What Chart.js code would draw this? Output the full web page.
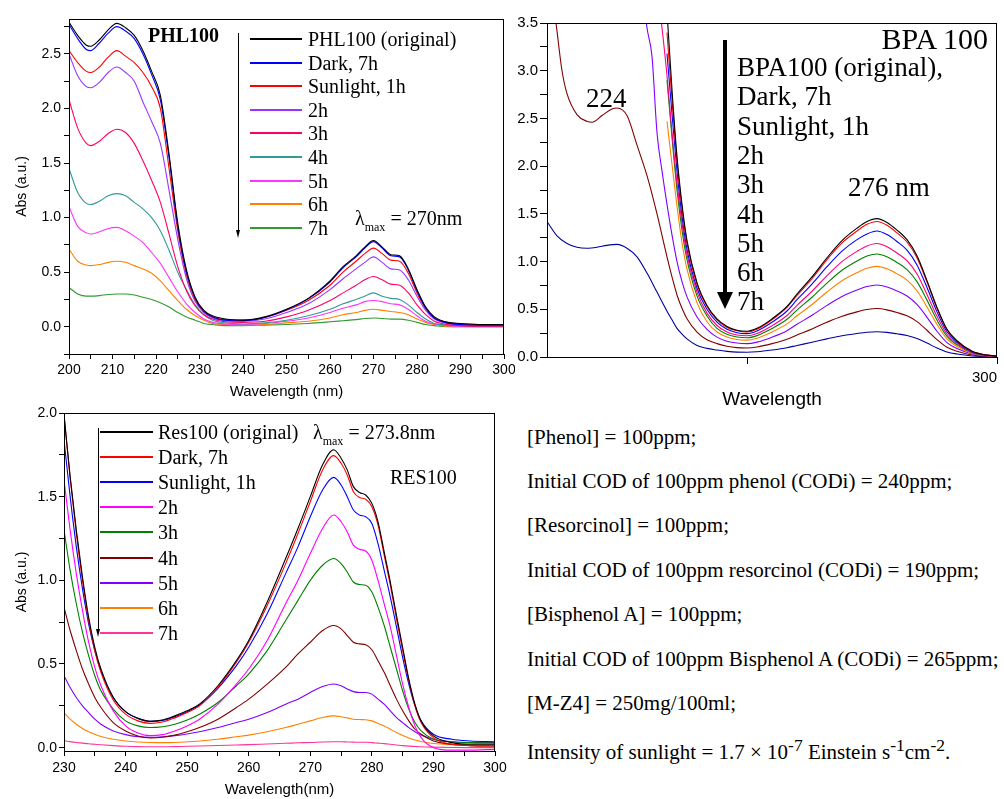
<!DOCTYPE html>
<html>
<head>
<meta charset="utf-8">
<script src="https://cdn.jsdelivr.net/npm/chart.js@4.4.1/dist/chart.umd.min.js"></script>
<style>
  body { margin:0; background:#fff; width:1004px; height:799px; overflow:hidden; position:relative;
         font-family:"Liberation Serif","Times New Roman",serif; color:#000; }
  canvas { position:absolute; }
  .t { position:absolute; white-space:nowrap; line-height:1; }
  .ln { position:absolute; height:2px; }
  .sub { font-size:12px; position:relative; top:6px; }
</style>
</head>
<body>
<canvas id="phl" width="515" height="405" style="left:0;top:0"></canvas>
<canvas id="bpa" width="504" height="420" style="left:500px;top:0"></canvas>
<canvas id="res" width="510" height="399" style="left:0;top:400px"></canvas>

<div class="t" style="left:148px;top:25px;font-size:20px;font-weight:bold">PHL100</div>
<div class="t" style="left:355px;top:208px;font-size:20px">λ<span class="sub">max</span> = 270nm</div>

<div class="t" style="right:16px;top:24px;font-size:30px">BPA 100</div>
<div class="t" style="left:586px;top:85px;font-size:27px">224</div>
<div class="t" style="left:848px;top:174px;font-size:27px">276 nm</div>

<div class="t" style="left:313px;top:422px;font-size:20px">λ<span class="sub">max</span> = 273.8nm</div>
<div class="t" style="left:390px;top:467px;font-size:20px">RES100</div>

<script>
// ---- PHL100 (phenol) ----
var phlWl = [200,202,204,205,207,209,211,213,215,217,219,221,223,225,227,229,231,233,236,240,245,250,255,260,263,266,268,270,272,274,276,278,280,282,284,287,290,295,300];
var phlOrig = [2.79,2.67,2.58,2.57,2.63,2.72,2.78,2.74,2.67,2.53,2.34,2.12,1.58,0.95,0.52,0.27,0.15,0.10,0.07,0.06,0.09,0.16,0.26,0.42,0.55,0.65,0.73,0.79,0.73,0.66,0.65,0.53,0.34,0.18,0.09,0.04,0.03,0.02,0.02];
var phlDark = [2.77,2.64,2.54,2.53,2.6,2.69,2.75,2.71,2.64,2.5,2.31,2.08,1.55,0.92,0.5,0.26,0.14,0.09,0.06,0.055,0.085,0.155,0.255,0.41,0.54,0.64,0.72,0.78,0.72,0.65,0.64,0.52,0.33,0.17,0.08,0.035,0.02,0.015,0.015];
var phlSun1 = [2.53,2.42,2.34,2.33,2.38,2.47,2.53,2.48,2.42,2.33,2.2,2.0,1.45,0.88,0.48,0.25,0.14,0.09,0.065,0.06,0.085,0.15,0.24,0.38,0.5,0.6,0.67,0.72,0.67,0.61,0.6,0.49,0.31,0.17,0.08,0.04,0.025,0.02,0.02];
var phl2h = [2.5,2.3,2.2,2.19,2.24,2.33,2.38,2.33,2.25,2.06,1.88,1.68,1.25,0.8,0.44,0.23,0.13,0.08,0.055,0.05,0.07,0.13,0.21,0.34,0.44,0.53,0.59,0.64,0.59,0.53,0.52,0.43,0.28,0.15,0.07,0.03,0.02,0.01,0.01];
var phl3h = [2.08,1.82,1.68,1.66,1.7,1.77,1.81,1.78,1.68,1.52,1.34,1.14,0.85,0.55,0.33,0.19,0.11,0.07,0.045,0.04,0.05,0.09,0.15,0.24,0.31,0.38,0.43,0.46,0.43,0.39,0.38,0.31,0.2,0.11,0.05,0.02,0.01,0.005,0.005];
var phl4h = [1.45,1.23,1.13,1.12,1.15,1.2,1.22,1.2,1.14,1.08,1.0,0.88,0.7,0.5,0.34,0.2,0.11,0.06,0.035,0.025,0.035,0.06,0.1,0.16,0.21,0.25,0.28,0.31,0.28,0.26,0.25,0.2,0.13,0.07,0.03,0.015,0.01,0.005,0.005];
var phl5h = [1.1,0.92,0.86,0.85,0.87,0.9,0.91,0.88,0.83,0.77,0.68,0.58,0.45,0.32,0.21,0.13,0.07,0.04,0.025,0.02,0.03,0.05,0.08,0.13,0.17,0.2,0.23,0.24,0.23,0.21,0.2,0.16,0.1,0.05,0.025,0.01,0.005,0.0,0.0];
var phl6h = [0.71,0.6,0.565,0.56,0.57,0.59,0.6,0.59,0.56,0.53,0.49,0.42,0.33,0.24,0.16,0.1,0.06,0.03,0.02,0.015,0.02,0.035,0.05,0.08,0.11,0.13,0.15,0.16,0.15,0.14,0.13,0.11,0.07,0.04,0.02,0.005,0.0,0.0,0.0];
var phl7h = [0.36,0.3,0.28,0.28,0.285,0.295,0.3,0.3,0.29,0.27,0.25,0.22,0.18,0.13,0.09,0.06,0.03,0.02,0.01,0.01,0.015,0.02,0.03,0.045,0.055,0.065,0.075,0.08,0.075,0.07,0.07,0.06,0.04,0.02,0.01,0.0,0.0,0.0,0.0];
var phlLabels = ['PHL100 (original)','Dark, 7h','Sunlight, 1h','2h','3h','4h','5h','6h','7h'];
var phlColors = ['#000000','#0000ff','#ff0000','#9933ff','#ff0066','#339999','#ff33ff','#ff8000','#339933'];

// ---- BPA 100 (bisphenol A) ----
var bpaWl = [234,235,236,237,238,240,242,244,246,248,250,252,255,258,260,263,266,269,272,274,276,278,280,282,284,286,288,290,292,295,298,300];
var bpaOrig = [3.62,2.8,2.1,1.6,1.22,0.78,0.54,0.4,0.32,0.28,0.27,0.3,0.4,0.53,0.66,0.84,1.04,1.22,1.35,1.42,1.45,1.41,1.33,1.23,1.06,0.8,0.52,0.29,0.17,0.06,0.02,0.01];
var bpaDark = [3.4,2.7,2.05,1.56,1.19,0.76,0.53,0.39,0.31,0.275,0.262,0.29,0.39,0.52,0.645,0.82,1.02,1.195,1.32,1.39,1.42,1.38,1.3,1.205,1.04,0.785,0.51,0.285,0.165,0.06,0.02,0.01];
var bpaSun1 = [3.18,2.55,1.95,1.48,1.13,0.72,0.5,0.365,0.29,0.255,0.245,0.273,0.364,0.482,0.6,0.764,0.946,1.11,1.23,1.29,1.32,1.283,1.21,1.12,0.965,0.728,0.473,0.264,0.155,0.055,0.018,0.01];
var bpa2hEarlyWl = [230,232,233];
var bpa2hEarly = [4.6,3.9,3.45];
var bpa2h = [2.95,2.35,1.82,1.4,1.07,0.68,0.46,0.33,0.262,0.23,0.222,0.246,0.328,0.435,0.541,0.689,0.853,1.0,1.107,1.164,1.19,1.156,1.09,1.009,0.869,0.656,0.426,0.238,0.139,0.049,0.016,0.008];
var bpa3h = [2.9,2.3,1.75,1.33,1.02,0.64,0.43,0.3,0.238,0.209,0.201,0.224,0.298,0.395,0.492,0.626,0.775,0.909,1.006,1.058,1.08,1.05,0.991,0.916,0.79,0.596,0.387,0.216,0.127,0.045,0.015,0.007];
var bpa4h = [2.47,2.02,1.58,1.2,0.92,0.57,0.37,0.262,0.21,0.183,0.177,0.197,0.262,0.347,0.432,0.55,0.681,0.799,0.884,0.93,0.95,0.924,0.871,0.806,0.694,0.524,0.341,0.19,0.111,0.039,0.013,0.006];
var bpa5hEarlyWl = [228,230,231,232,233];
var bpa5hEarly = [4.4,3.45,3.15,2.35,1.95];
var bpa5h = [1.6,1.28,1.0,0.79,0.63,0.42,0.29,0.208,0.166,0.146,0.14,0.156,0.208,0.276,0.343,0.437,0.541,0.634,0.702,0.738,0.755,0.733,0.692,0.64,0.551,0.416,0.27,0.151,0.088,0.031,0.01,0.005];
var bpa6hEarlyWl = [210,211.8,213,214,216,218,219,221,223,224,226,228,230,232];
var bpa6hEarly = [4.2,3.5,3.0,2.76,2.54,2.47,2.46,2.53,2.6,2.61,2.53,2.22,1.9,1.5];
var bpa6h = [1.05,0.84,0.65,0.51,0.4,0.26,0.18,0.14,0.112,0.098,0.095,0.105,0.14,0.186,0.231,0.294,0.364,0.427,0.473,0.497,0.508,0.494,0.466,0.431,0.371,0.28,0.182,0.102,0.06,0.021,0.007,0.003];
var bpa7hEarlyWl = [210,212,214,216,218,220,222,224,226,228,230,232];
var bpa7hEarly = [1.42,1.27,1.19,1.15,1.14,1.15,1.17,1.18,1.14,1.05,0.88,0.68];
var bpa7h = [0.48,0.39,0.3,0.24,0.19,0.12,0.09,0.073,0.059,0.051,0.05,0.055,0.073,0.097,0.121,0.154,0.19,0.223,0.247,0.26,0.265,0.258,0.243,0.225,0.194,0.146,0.095,0.053,0.031,0.011,0.004,0.002];
var bpaLabels = ['BPA100 (original),','Dark, 7h','Sunlight, 1h','2h','3h','4h','5h','6h','7h'];
var bpaColors = ['#000000','#ff0000','#0000ff','#ff0080','#008000','#ff8000','#8000ff','#800000','#0000a0'];

// ---- RES100 (resorcinol) ----
var resWl = [230,231,232,233,234,235,236,238,240,242,244,246,248,250,252,255,258,260,263,266,268,270,272,273.8,275,276,277,278,279,280,281,282,283,284,285,286,287,288,290,293,296,300];
var resOrig = [1.99,1.62,1.3,1.02,0.78,0.6,0.47,0.3,0.215,0.175,0.158,0.165,0.19,0.22,0.26,0.37,0.52,0.64,0.87,1.13,1.31,1.5,1.69,1.78,1.73,1.66,1.56,1.525,1.51,1.46,1.35,1.17,0.99,0.79,0.6,0.41,0.26,0.16,0.07,0.03,0.02,0.02];
var resDark = [1.99,1.61,1.28,1.0,0.76,0.58,0.45,0.285,0.2,0.16,0.145,0.153,0.178,0.21,0.25,0.36,0.51,0.63,0.85,1.1,1.28,1.47,1.66,1.745,1.7,1.63,1.53,1.495,1.485,1.44,1.33,1.15,0.97,0.77,0.58,0.4,0.25,0.15,0.06,0.02,0.012,0.01];
var resSun1 = [1.84,1.5,1.2,0.95,0.74,0.58,0.46,0.3,0.215,0.175,0.157,0.163,0.185,0.215,0.255,0.355,0.49,0.6,0.8,1.04,1.2,1.38,1.54,1.615,1.57,1.5,1.42,1.39,1.38,1.34,1.22,1.06,0.9,0.72,0.54,0.38,0.25,0.16,0.08,0.05,0.04,0.035];
var res2h = [1.6,1.3,1.04,0.82,0.63,0.48,0.37,0.22,0.13,0.088,0.072,0.078,0.1,0.13,0.17,0.26,0.38,0.47,0.64,0.86,1.0,1.16,1.31,1.39,1.35,1.29,1.21,1.185,1.175,1.12,1.0,0.86,0.72,0.55,0.38,0.24,0.13,0.06,0.0,-0.015,-0.015,-0.01];
var res3h = [1.3,1.06,0.86,0.69,0.55,0.43,0.34,0.23,0.16,0.13,0.12,0.125,0.14,0.165,0.2,0.27,0.37,0.44,0.58,0.76,0.88,1.0,1.09,1.13,1.1,1.05,0.99,0.975,0.97,0.93,0.84,0.73,0.6,0.47,0.34,0.23,0.15,0.1,0.05,0.035,0.03,0.028];
var res4h = [0.84,0.7,0.58,0.47,0.38,0.3,0.24,0.15,0.1,0.07,0.058,0.062,0.075,0.095,0.12,0.17,0.24,0.29,0.38,0.48,0.56,0.63,0.7,0.73,0.71,0.67,0.63,0.62,0.615,0.585,0.52,0.45,0.37,0.29,0.22,0.16,0.11,0.08,0.04,0.02,0.012,0.01];
var res5h = [0.43,0.36,0.3,0.25,0.21,0.17,0.14,0.1,0.078,0.066,0.062,0.065,0.072,0.082,0.095,0.12,0.15,0.17,0.21,0.26,0.29,0.33,0.365,0.38,0.37,0.35,0.335,0.33,0.33,0.32,0.29,0.26,0.22,0.18,0.15,0.12,0.095,0.075,0.05,0.035,0.03,0.03];
var res6h = [0.21,0.17,0.14,0.115,0.095,0.08,0.067,0.05,0.04,0.034,0.031,0.03,0.031,0.035,0.04,0.05,0.065,0.075,0.095,0.12,0.14,0.16,0.18,0.19,0.185,0.178,0.17,0.168,0.167,0.16,0.145,0.13,0.11,0.09,0.072,0.058,0.046,0.037,0.025,0.018,0.016,0.015];
var res7h = [0.042,0.036,0.031,0.027,0.023,0.02,0.017,0.012,0.008,0.006,0.005,0.005,0.006,0.008,0.01,0.013,0.016,0.018,0.022,0.026,0.029,0.031,0.034,0.035,0.035,0.034,0.033,0.032,0.032,0.03,0.027,0.024,0.02,0.016,0.012,0.009,0.007,0.005,0.003,0.001,0.0,0.0];
var resLabels = ['Res100 (original)','Dark, 7h','Sunlight, 1h','2h','3h','4h','5h','6h','7h'];
var resColors = ['#000000','#ff0000','#0000ff','#ff00ff','#008000','#800000','#8000ff','#ff8000','#ff3399'];

var notes = ['[Phenol] = 100ppm;',
  'Initial COD of 100ppm phenol (CODi) = 240ppm;',
  '[Resorcinol] = 100ppm;',
  'Initial COD of 100ppm resorcinol (CODi) = 190ppm;',
  '[Bisphenol A] = 100ppm;',
  'Initial COD of 100ppm Bisphenol A (CODi) = 265ppm;',
  '[M-Z4] = 250mg/100ml;',
  'Intensity of sunlight = 1.7 \u00d7 10<sup>-7</sup> Einstein s<sup>-1</sup>cm<sup>-2</sup>.'];

function pts(wl, ys) {
  return wl.map(function (x, i) { return {x: x, y: ys[i]}; });
}

function line(data, color) {
  return {data: data, borderColor: color, borderWidth: 1.1, pointRadius: 0, fill: false,
          cubicInterpolationMode: 'monotone'};
}

// box round the plot area
var frame = {
  id: 'frame',
  afterDraw: function (chart) {
    var a = chart.chartArea, ctx = chart.ctx;
    ctx.save();
    ctx.strokeStyle = '#000';
    ctx.lineWidth = 1;
    ctx.strokeRect(Math.round(a.left) + 0.5, Math.round(a.top) + 0.5,
                   Math.round(a.right - a.left) - 1, Math.round(a.bottom - a.top));
    ctx.restore();
  }
};

function halfStep(v) { return Math.abs(v * 2 - Math.round(v * 2)) < 1e-6; }

function makeChart(id, datasets, o) {
  var sans = 'Liberation Sans, Arial, sans-serif';
  new Chart(document.getElementById(id), {
    type: 'line',
    data: {datasets: datasets},
    plugins: [frame],
    options: {
      responsive: false, animation: false, devicePixelRatio: 1,
      layout: {padding: {top: o.padTop, right: o.padRight, left: 0, bottom: 0}},
      plugins: {legend: {display: false}, tooltip: {enabled: false}},
      scales: {
        x: {
          type: 'linear', min: o.xmin, max: o.xmax,
          border: {display: false},
          grid: {drawOnChartArea: false, tickLength: o.tickLen, tickColor: '#000'},
          ticks: {stepSize: o.xstep, includeBounds: false, autoSkip: false, maxRotation: 0,
                  align: o.xAlign || 'center',
                  padding: o.xPad, color: '#000', font: {family: sans, size: o.tickFont},
                  callback: o.xLabel},
          title: {display: true, text: o.xTitle, color: '#000',
                  font: {family: sans, size: o.xTitleFont}, padding: {top: 0, bottom: o.xTitlePad}},
          afterFit: function (s) { s.height = o.xh; s.paddingLeft = 0; s.paddingRight = 0; }
        },
        y: {
          min: o.ymin, max: o.ymax,
          border: {display: false},
          grid: {drawOnChartArea: false, tickLength: o.tickLen, tickColor: '#000'},
          ticks: {stepSize: o.ystep, includeBounds: false, autoSkip: false, padding: o.yPad,
                  color: '#000', font: {family: sans, size: o.tickFont},
                  callback: function (v) { return halfStep(v) ? v.toFixed(1) : ''; }},
          title: {display: !!o.yTitle, text: o.yTitle, color: '#000',
                  font: {family: sans, size: 14}, padding: {top: o.yTitlePad, bottom: 0}},
          afterFit: function (s) { s.width = o.yw; s.paddingTop = 0; s.paddingBottom = 0; }
        }
      }
    }
  });
}

var phlSeries = [phlOrig, phlDark, phlSun1, phl2h, phl3h, phl4h, phl5h, phl6h, phl7h];
makeChart('phl', phlSeries.map(function (s, i) { return line(pts(phlWl, s), phlColors[i]); }), {
  padTop: 19, padRight: 11, xmin: 200, xmax: 300, xstep: 5, ymin: -0.25, ymax: 2.82, ystep: 0.25,
  tickLen: 5, xPad: 3, yPad: 3, tickFont: 14, xh: 51, yw: 69,
  xLabel: function (v) { return v % 10 === 0 ? String(v) : ''; },
  xTitle: 'Wavelength (nm)', xTitleFont: 15, xTitlePad: 4, yTitle: 'Abs (a.u.)', yTitlePad: 14
});

var bpaSeries = [
  pts(bpaWl, bpaOrig), pts(bpaWl, bpaDark), pts(bpaWl, bpaSun1),
  pts(bpa2hEarlyWl.concat(bpaWl), bpa2hEarly.concat(bpa2h)),
  pts(bpaWl, bpa3h), pts(bpaWl, bpa4h),
  pts(bpa5hEarlyWl.concat(bpaWl), bpa5hEarly.concat(bpa5h)),
  pts(bpa6hEarlyWl.concat(bpaWl), bpa6hEarly.concat(bpa6h)),
  pts(bpa7hEarlyWl.concat(bpaWl), bpa7hEarly.concat(bpa7h))
];
makeChart('bpa', bpaSeries.map(function (s, i) { return line(s, bpaColors[i]); }), {
  padTop: 23, padRight: 7, xmin: 210, xmax: 300, xstep: 50, ymin: 0, ymax: 3.5, ystep: 0.25,
  tickLen: 7, xPad: 5, yPad: 2, tickFont: 15, xh: 63, yw: 47, xAlign: 'end',
  xLabel: function (v) { return v === 300 ? '300' : ''; },
  xTitle: 'Wavelength', xTitleFont: 19, xTitlePad: 9, yTitle: '', yTitlePad: 0
});

var resSeries = [resOrig, resDark, resSun1, res2h, res3h, res4h, res5h, res6h, res7h];
makeChart('res', resSeries.map(function (s, i) { return line(pts(resWl, s), resColors[i]); }), {
  padTop: 13, padRight: 15, xmin: 230, xmax: 300, xstep: 5, ymin: -0.02, ymax: 2.0, ystep: 0.25,
  tickLen: 5, xPad: 4, yPad: 2, tickFont: 14, xh: 48, yw: 64,
  xLabel: function (v) { return v % 10 === 0 ? String(v) : ''; },
  xTitle: 'Wavelength(nm)', xTitleFont: 15, xTitlePad: 0, yTitle: 'Abs (a.u.)', yTitlePad: 14
});

// legends, arrows and notes as page text
function add(html, style) {
  var d = document.createElement('div');
  d.className = 't';
  d.style.cssText = style;
  d.innerHTML = html;
  document.body.appendChild(d);
  return d;
}

function legend(labels, colors, top, dy, x1, x2, tx, size) {
  labels.forEach(function (lab, i) {
    var c = Math.round(top + i * dy);
    if (colors) {
      var l = document.createElement('div');
      l.className = 'ln';
      l.style.cssText = 'left:' + x1 + 'px;width:' + (x2 - x1) + 'px;top:' + (c - 1) + 'px;background:' + colors[i];
      document.body.appendChild(l);
    }
    add(lab, 'left:' + tx + 'px;top:' + (c - size / 2) + 'px;font-size:' + size + 'px');
  });
}

function arrow(x, y1, y2, w, hw, hh) {
  add('', 'left:' + (x - w / 2) + 'px;top:' + y1 + 'px;width:' + w + 'px;height:' + (y2 - y1 - hh + 1) + 'px;background:#000');
  add('', 'left:' + (x - hw / 2) + 'px;top:' + (y2 - hh) + 'px;width:0;height:0;border-left:' + (hw / 2) +
      'px solid transparent;border-right:' + (hw / 2) + 'px solid transparent;border-top:' + hh + 'px solid #000');
}

legend(phlLabels, phlColors, 39, 23.6, 250, 302, 308, 20);
arrow(238, 33, 238, 1, 5, 8);

legend(bpaLabels, null, 67, 29.3, 0, 0, 737, 27);
arrow(725, 40, 309, 4, 16, 17);

legend(resLabels, resColors, 432, 25.1, 100, 153, 158, 20);
arrow(98, 428, 637, 1, 5, 8);

notes.forEach(function (n, i) {
  add(n, 'left:527px;top:' + (437 + i * 44.4 - 10.5) + 'px;font-size:21px');
});
</script>
</body>
</html>
